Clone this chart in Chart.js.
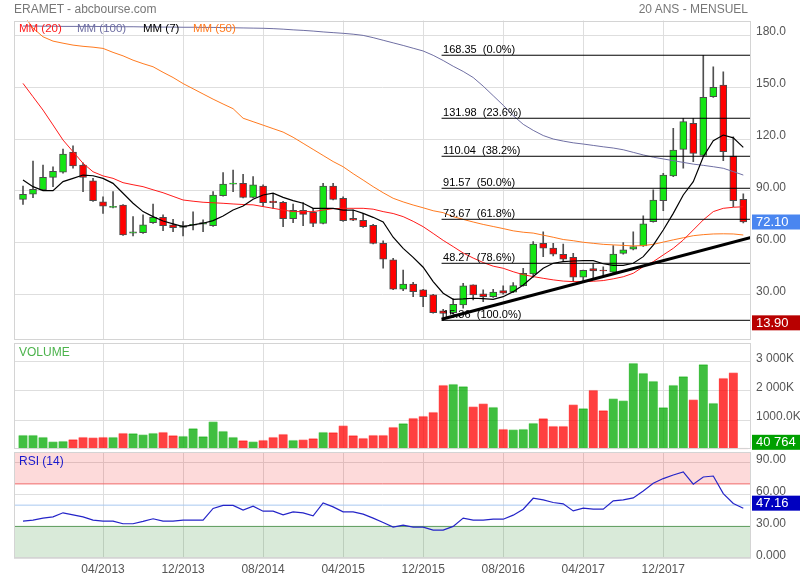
<!DOCTYPE html>
<html>
<head>
<meta charset="utf-8">
<title>ERAMET - abcbourse.com</title>
<script src="https://cdn.jsdelivr.net/npm/chart.js@4.4.1/dist/chart.umd.min.js"></script>
<style>
  body { margin: 0; background: #fff; font-family: 'Liberation Sans', Arial, sans-serif; }
  #wrap { position: relative; width: 800px; height: 580px; overflow: hidden; }
  #wrap canvas { position: absolute; left: 0; top: 0; }
  .txt { position: absolute; white-space: nowrap; font-size: 12px; line-height: 14px; }
  .leg { font-size: 11.5px; top: 21px; }
</style>
</head>
<body>
<div id="wrap">
  <canvas id="priceChart" width="800" height="580"></canvas>
  <canvas id="volumeChart" width="800" height="580"></canvas>
  <canvas id="rsiChart" width="800" height="580"></canvas>
  <div class="txt" style="left:14px;top:2px;color:#777">ERAMET - abcbourse.com</div>
  <div class="txt" style="right:52px;top:2px;color:#777">20 ANS - MENSUEL</div>
  <div class="txt leg" style="left:19px;color:#ff1a1a">MM (20)</div>
  <div class="txt leg" style="left:77px;color:#6f6fa3">MM (100)</div>
  <div class="txt leg" style="left:143px;color:#000">MM (7)</div>
  <div class="txt leg" style="left:193px;color:#ff7a1f">MM (50)</div>
  <div class="txt" style="left:19px;top:345px;color:#4cb34c">VOLUME</div>
  <div class="txt" style="left:19px;top:454px;color:#1a1acc">RSI (14)</div>
</div>
<script>
// monthly candles, 08/2012 -> 08/2018 (index 0..72)
var opens = [85.2, 88.1, 90.6, 97.9, 100.8, 112.5, 105.0, 95.8, 83.7, 80.5,
    81.9, 65.6, 65.9, 71.7, 74.8, 70.4, 69.0, 70.2, 70.8, 70.0,
    87.3, 94.0, 94.4, 86.3, 92.9, 84.2, 83.5, 74.0, 78.8, 77.7,
    71.3, 92.9, 85.8, 74.2, 73.1, 70.2, 59.8, 50.2, 33.3, 36.2,
    32.9, 30.0, 20.8, 19.8, 24.2, 35.8, 30.6, 29.0, 32.5, 31.6,
    35.4, 42.1, 59.8, 57.0, 53.5, 51.7, 40.2, 45.2, 44.0, 43.1,
    54.0, 56.4, 58.3, 72.3, 84.4, 98.7, 114.0, 129.0, 110.6, 144.4,
    151.1, 110.2, 85.2];
var highs = [92.9, 107.3, 105.0, 104.0, 114.2, 116.0, 106.3, 97.3, 86.7, 89.6,
    82.2, 75.2, 76.2, 82.5, 76.2, 73.6, 72.3, 78.0, 73.3, 89.6,
    100.6, 102.1, 99.6, 98.3, 93.5, 88.7, 84.0, 82.5, 83.3, 80.0,
    94.4, 94.4, 86.7, 79.0, 77.1, 70.8, 61.2, 51.2, 44.4, 37.3,
    33.3, 30.3, 21.7, 27.7, 36.7, 35.8, 32.9, 33.3, 35.2, 37.1,
    45.4, 60.8, 66.5, 59.8, 59.4, 54.0, 44.4, 47.9, 46.2, 58.5,
    60.2, 66.5, 75.7, 90.6, 100.2, 126.2, 131.9, 131.9, 168.35, 161.7,
    158.8, 121.3, 88.3];
var lows = [82.3, 86.1, 90.3, 92.5, 100.3, 103.1, 89.6, 84.0, 77.1, 80.3,
    64.3, 64.0, 65.5, 71.3, 67.1, 66.5, 64.0, 67.5, 66.5, 69.5,
    87.0, 89.6, 86.0, 86.0, 81.0, 80.0, 69.4, 71.7, 70.0, 69.4,
    71.0, 84.8, 72.5, 72.8, 69.0, 59.5, 45.4, 33.0, 32.5, 29.0,
    23.3, 19.5, 15.36, 19.0, 22.3, 27.1, 26.1, 28.5, 30.5, 31.3,
    35.0, 40.2, 52.1, 52.5, 49.5, 37.7, 37.5, 38.8, 40.4, 42.8,
    53.5, 56.0, 58.0, 72.0, 78.6, 98.3, 103.1, 106.9, 110.3, 144.0,
    107.5, 81.0, 71.5];
var closes = [88.1, 91.0, 97.9, 101.3, 111.3, 104.4, 97.9, 84.4, 81.2, 81.2,
    64.6, 66.5, 70.4, 74.8, 70.0, 68.8, 70.0, 70.8, 71.7, 87.7,
    94.0, 94.2, 86.3, 93.5, 83.3, 83.3, 74.0, 78.8, 76.5, 71.3,
    92.9, 85.2, 72.9, 73.1, 69.4, 59.8, 50.6, 33.3, 36.2, 31.9,
    29.0, 19.8, 19.4, 24.6, 35.2, 30.0, 29.0, 31.7, 31.0, 35.4,
    42.5, 59.4, 57.0, 53.5, 50.7, 40.2, 44.2, 43.8, 43.8, 53.6,
    56.0, 57.9, 71.0, 84.8, 99.2, 113.6, 130.0, 111.7, 144.0, 149.8,
    112.7, 84.4, 72.1];

// moving averages
var mm7 = [96.3, 92.5, 90.2, 90.2, 95.4, 97.3, 99.2, 98.8, 97.3, 94.4,
    88.7, 82.9, 78.1, 75.2, 72.7, 71.0, 69.4, 70.4, 71.4, 72.9,
    75.6, 79.0, 81.3, 85.2, 87.7, 88.7, 86.3, 84.4, 82.9, 80.0,
    80.0, 80.0, 79.0, 79.0, 77.1, 74.8, 72.1, 63.3, 56.9, 51.7,
    46.0, 37.7, 31.0, 27.5, 27.7, 28.1, 27.9, 27.5, 29.0, 31.9,
    35.8, 40.6, 45.4, 48.3, 49.2, 49.6, 49.8, 49.8, 48.0, 47.1,
    47.1, 48.3, 52.1, 58.8, 67.5, 77.1, 87.7, 95.4, 109.8, 119.0,
    122.3, 120.7, 115.2];
var mm20 = [152.1, 144.4, 136.7, 128.1, 119.4, 112.7, 106.0, 101.1, 98.7, 97.3,
    94.8, 93.6, 92.5, 90.7, 89.0, 86.9, 84.8, 84.1, 83.5, 83.2,
    82.9, 82.5, 82.2, 82.0, 81.0, 80.0, 79.0, 78.1, 78.1, 78.1,
    79.0, 79.8, 80.0, 80.0, 80.0, 79.5, 78.1, 77.0, 75.2, 72.5,
    69.4, 65.5, 61.5, 57.9, 54.2, 51.3, 48.7, 46.6, 45.4, 43.4,
    41.7, 40.6, 39.6, 38.7, 38.0, 37.7, 37.7, 37.9, 38.3, 39.3,
    40.5, 42.5, 46.3, 49.2, 53.1, 56.9, 61.7, 67.5, 73.3, 78.1,
    80.0, 80.6, 80.9];
var mm50 = [192.0, 184.0, 179.0, 176.5, 175.3, 174.2, 173.5, 173.0, 172.3, 170.0,
    168.0, 165.5, 163.5, 161.7, 158.5, 155.5, 152.0, 149.0, 146.0, 143.0,
    140.2, 137.5, 132.0, 130.0, 128.0, 126.0, 124.0, 121.0, 117.5, 114.0,
    110.5, 107.0, 104.0, 100.0, 96.3, 92.5, 89.0, 85.8, 83.7, 81.9,
    80.3, 78.6, 77.5, 75.2, 73.6, 72.1, 70.7, 69.5, 68.3, 67.0,
    66.2, 65.7, 64.5, 63.3, 62.0, 61.3, 60.4, 59.8, 59.2, 58.9,
    58.6, 58.3, 58.5, 59.2, 60.5, 61.8, 63.0, 64.2, 64.8, 65.2,
    65.3, 65.2, 64.6];
var mm100 = [185.2, 185.2, 185.1, 185.1, 185.0, 185.0, 185.0, 185.0, 184.9, 184.9,
    184.8, 184.8, 184.7, 184.7, 184.6, 184.6, 184.5, 184.5, 184.4, 184.4,
    184.3, 184.2, 184.1, 184.0, 183.9, 183.7, 183.4, 183.0, 182.7, 182.3,
    181.8, 181.4, 181.0, 180.5, 179.8, 178.5, 177.0, 175.5, 174.0, 172.4,
    170.8, 168.3, 165.3, 162.0, 159.0, 155.5, 150.5, 145.0, 139.5, 133.5,
    128.5, 125.0, 122.0, 120.0, 118.8, 117.8, 117.1, 116.3, 115.5, 114.8,
    113.8, 112.3, 110.8, 109.5, 108.5, 107.5, 106.5, 105.5, 104.8, 104.0,
    103.1, 101.2, 99.2];

// volume in thousands of shares
var volumes = [488, 488, 420, 260, 283, 341, 420, 398, 420, 420,
    556, 545, 500, 556, 591, 477, 454, 716, 443, 944,
    625, 420, 307, 260, 318, 420, 523, 318, 329, 375,
    591, 580, 808, 477, 386, 488, 488, 761, 887, 1068,
    1137, 1273, 2195, 2229, 2150, 1455, 1557, 1444, 693, 670,
    693, 898, 1057, 796, 796, 1523, 1398, 2024, 1330, 1728,
    1660, 2945, 2604, 2331, 1432, 2195, 2490, 1694, 2900, 1580,
    2433, 2615, 40.764];

var rsi = [35.0, 35.9, 37.8, 39.0, 42.8, 40.9, 39.0, 35.9, 35.0, 35.0,
    32.5, 32.5, 34.7, 37.2, 35.0, 35.0, 35.9, 35.9, 35.9, 46.9,
    49.7, 49.7, 45.3, 49.0, 44.3, 44.3, 40.9, 43.7, 42.8, 39.9,
    52.1, 48.4, 43.7, 43.7, 41.5, 37.8, 33.7, 29.3, 31.2, 29.3,
    29.3, 26.5, 26.5, 30.0, 37.8, 35.9, 35.9, 36.8, 36.8, 40.6,
    46.2, 56.5, 54.9, 52.5, 51.2, 44.6, 47.2, 46.2, 46.2, 54.0,
    54.9, 56.8, 63.4, 70.6, 75.0, 78.4, 81.2, 69.7, 76.5, 77.4,
    60.9, 51.6, 47.16];

// fibonacci retracement and support line
var fibValues = [168.35, 131.98, 110.04, 91.57, 73.67, 48.27, 15.36];
var fibPct = ['0.0%', '23.6%', '38.2%', '50.0%', '61.8%', '78.6%', '100.0%'];
var fibStart = 41.84;
var trendLine = [[41.84, 16.0], [72.77, 63.2]];
var priceLow = 13.90;

var tickIdx = [8, 16, 24, 32, 40, 48, 56, 64];
var tickLabels = ['04/2013', '12/2013', '08/2014', '04/2015', '12/2015', '08/2016', '04/2017', '12/2017'];
var priceTicks = [30, 60, 90, 120, 150, 180];
var priceTickLabels = ['30.00', '60.00', '90.00', '120.0', '150.0', '180.0'];
var volTicks = [1000, 2000, 3000];
var volTickLabels = ['1000.0K', '2 000K', '3 000K'];
var rsiTicks = [0, 30, 60, 90];
var rsiTickLabels = ['0.000', '30.00', '60.00', '90.00'];

var xMin = -0.9, xMax = 72.77;
var GRID = '#dedede';

Chart.defaults.font.family = "'Liberation Sans', Arial, sans-serif";
Chart.defaults.font.size = 12;

function xAxis(showLabels) {
    var axis = {
        type: 'linear',
        min: xMin,
        max: xMax,
        offset: false,
        afterBuildTicks: function(scale) {
            scale.ticks = tickIdx.map(function(v) { return {value: v}; });
        },
        grid: {color: GRID, drawTicks: false, offset: false},
        border: {display: false},
        ticks: {
            display: showLabels,
            padding: 4,
            color: '#555',
            maxRotation: 0,
            autoSkip: false,
            callback: function(v) { return tickLabels[tickIdx.indexOf(v)]; }
        }
    };
    if (showLabels) {
        axis.afterFit = function(scale) { scale.height = 21.7; };
    }
    return axis;
}

function yAxis(min, max, ticks, labels) {
    return {
        position: 'right',
        min: min,
        max: max,
        afterBuildTicks: function(scale) {
            scale.ticks = ticks.map(function(v) { return {value: v}; });
        },
        afterFit: function(scale) { scale.width = 49; },
        grid: {color: GRID, drawTicks: false},
        border: {display: false},
        ticks: {
            padding: 5,
            color: '#555',
            labelOffset: -3,
            callback: function(v) { return labels[ticks.indexOf(v)]; }
        }
    };
}

function pts(arr) {
    return arr.map(function(v, i) { return {x: i, y: v}; });
}

function flatLine(value, from) {
    return [{x: from, y: value}, {x: xMax, y: value}];
}

var framePlugin = {
    id: 'frame',
    afterDraw: function(chart) {
        var a = chart.chartArea, ctx = chart.ctx;
        ctx.save();
        ctx.strokeStyle = '#d4d4d4';
        ctx.lineWidth = 1;
        ctx.strokeRect(Math.round(a.left) + 0.5, Math.round(a.top) + 0.5,
            Math.round(a.right - a.left) - 1, Math.round(a.bottom - a.top) - 1);
        ctx.restore();
    }
};

function boxLabels(items) {
    return {
        id: 'boxLabels',
        afterDraw: function(chart) {
            var ctx = chart.ctx, a = chart.chartArea, y = chart.scales.y;
            ctx.save();
            ctx.font = "13px 'Liberation Sans', Arial, sans-serif";
            ctx.textBaseline = 'middle';
            items.forEach(function(it) {
                var cy = y.getPixelForValue(it.value) + (it.dy || 0);
                cy = Math.min(Math.max(cy, a.top + 7.5), a.bottom - 7);
                ctx.fillStyle = it.bg;
                ctx.fillRect(a.right + 1, cy - 7.5, chart.width - a.right, 15);
                ctx.fillStyle = '#fff';
                ctx.fillText(it.text, a.right + 5, cy + 0.5);
            });
            ctx.restore();
        }
    };
}

var fibLabelsPlugin = {
    id: 'fibLabels',
    afterDatasetsDraw: function(chart) {
        var ctx = chart.ctx, x = chart.scales.x, y = chart.scales.y;
        ctx.save();
        ctx.font = "11px 'Liberation Sans', Arial, sans-serif";
        ctx.fillStyle = '#000';
        ctx.textBaseline = 'alphabetic';
        fibValues.forEach(function(v, i) {
            ctx.fillText(v.toFixed(2) + '  (' + fibPct[i] + ')',
                x.getPixelForValue(fibStart) + 1.5, y.getPixelForValue(v) - 2);
        });
        ctx.restore();
    }
};

var isUp = closes.map(function(c, i) { return c >= opens[i]; });

function baseOptions(padding, xOpts, yOpts) {
    return {
        responsive: false,
        animation: false,
        events: [],
        layout: {padding: padding},
        plugins: {legend: {display: false}, tooltip: {enabled: false}},
        scales: {x: xOpts, y: yOpts}
    };
}

// price panel
var priceSets = [];
priceSets.push({
    type: 'line', order: 0,
    data: trendLine.map(function(p) { return {x: p[0], y: p[1]}; }),
    borderColor: '#000', borderWidth: 3, pointRadius: 0
});
fibValues.forEach(function(v) {
    priceSets.push({
        type: 'line', order: 1,
        data: flatLine(v, fibStart),
        borderColor: '#000', borderWidth: 1, pointRadius: 0
    });
});
[[mm7, '#000000', 1.2], [mm20, '#ff1a1a', 1], [mm50, '#ff7a1f', 1], [mm100, '#6f6fa3', 1]].forEach(function(m, k) {
    priceSets.push({
        type: 'line', order: 2 + k,
        data: pts(m[0]),
        borderColor: m[1], borderWidth: m[2], pointRadius: 0, tension: 0
    });
});
priceSets.push({
    type: 'bar', order: 8, grouped: false,
    data: opens.map(function(o, i) { return {x: i, y: [Math.min(o, closes[i]), Math.max(o, closes[i])]}; }),
    backgroundColor: isUp.map(function(u) { return u ? '#14e614' : '#ff0000'; }),
    borderColor: '#4a4a4a',
    borderWidth: 1, borderSkipped: false, barThickness: 7, minBarLength: 1
});
priceSets.push({
    type: 'bar', order: 9, grouped: false,
    data: lows.map(function(l, i) { return {x: i, y: [l, highs[i]]}; }),
    backgroundColor: '#505050', borderWidth: 0, barThickness: 1
});

new Chart(document.getElementById('priceChart'), {
    type: 'bar',
    data: {datasets: priceSets},
    options: baseOptions({left: 14, right: 0, top: 20.5, bottom: 240.7},
        xAxis(false), yAxis(4.4, 188.4, priceTicks, priceTickLabels)),
    plugins: [framePlugin, fibLabelsPlugin, boxLabels([
        {value: closes[closes.length - 1], text: closes[closes.length - 1].toFixed(2), bg: '#4a86f0'},
        {value: priceLow, text: priceLow.toFixed(2), bg: '#b80000'}
    ])]
});

// volume panel
var lastVol = String(Math.round(volumes[volumes.length - 1] * 1000)).replace(/\B(?=(\d{3})+(?!\d))/g, ' ');
new Chart(document.getElementById('volumeChart'), {
    type: 'bar',
    data: {
        datasets: [{
            grouped: false,
            data: pts(volumes),
            backgroundColor: isUp.map(function(u) { return u ? 'rgba(0,170,0,0.75)' : 'rgba(255,0,0,0.75)'; }),
            borderColor: isUp.map(function(u) { return u ? 'rgba(0,170,0,0.35)' : 'rgba(255,0,0,0.35)'; }),
            borderWidth: {top: 1, left: 0, right: 0, bottom: 0},
            borderSkipped: false,
            barThickness: 9
        }]
    },
    options: baseOptions({left: 14, right: 0, top: 343.3, bottom: 130.7},
        xAxis(false), yAxis(0, 3618, volTicks, volTickLabels)),
    plugins: [framePlugin, boxLabels([
        {value: volumes[volumes.length - 1], text: lastVol, bg: '#00a000'}
    ])]
});

// RSI panel
new Chart(document.getElementById('rsiChart'), {
    type: 'line',
    data: {
        datasets: [
            {data: pts(rsi), borderColor: '#2424c8', borderWidth: 1.2, pointRadius: 0, tension: 0, order: 0},
            {data: flatLine(50, xMin), borderColor: '#a8c8f0', borderWidth: 1, pointRadius: 0, order: 1},
            {data: flatLine(100, xMin), borderWidth: 0, pointRadius: 0, fill: {value: 70},
                backgroundColor: 'rgba(240,0,0,0.145)', order: 3},
            {data: flatLine(70, xMin), borderColor: '#f06a6a', borderWidth: 1, pointRadius: 0, order: 2},
            {data: flatLine(30, xMin), borderColor: '#5d9e5d', borderWidth: 1, pointRadius: 0,
                fill: {value: 0}, backgroundColor: 'rgba(0,114,0,0.15)', order: 2}
        ]
    },
    options: baseOptions({left: 14, right: 0, top: 452, bottom: 0},
        xAxis(true), yAxis(0, 100, rsiTicks, rsiTickLabels)),
    plugins: [framePlugin, boxLabels([
        {value: rsi[rsi.length - 1], text: rsi[rsi.length - 1].toFixed(2), bg: '#0000c0', dy: -5}
    ])]
});
</script>
</body>
</html>
